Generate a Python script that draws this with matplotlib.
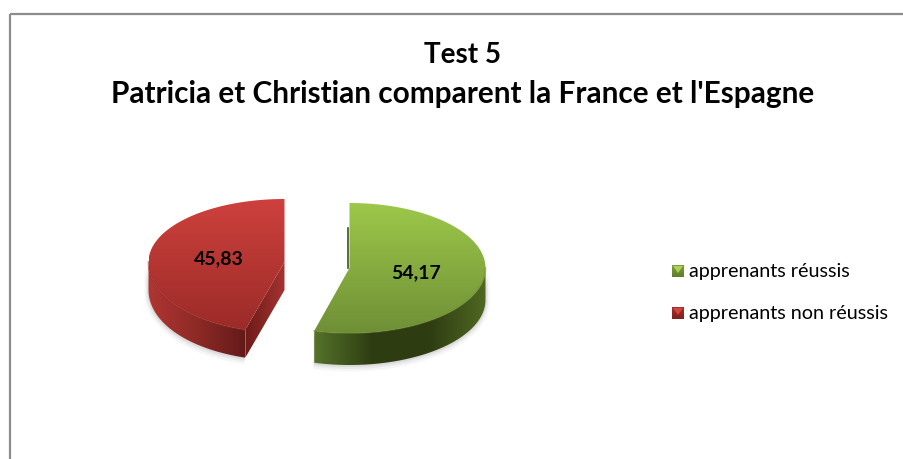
import numpy as np
import matplotlib
matplotlib.use('Agg')
import matplotlib.pyplot as plt
from matplotlib.colors import LinearSegmentedColormap
from matplotlib.patches import Polygon, Rectangle

plt.rcParams['font.family'] = ['Lato', 'DejaVu Sans']

# donnees
labels = ['apprenants réussis', 'apprenants non réussis']
values = [54.17, 45.83]
value_texts = ['54,17', '45,83']
title_lines = ['Test 5', "Patricia et Christian comparent la France et l'Espagne"]

fig = plt.figure(figsize=(9.04, 4.59), dpi=100, facecolor='white')
ax = fig.add_axes([0, 0, 1, 1])
ax.set_xlim(0, 904)
ax.set_ylim(459, 0)
ax.axis('off')

# cadre du graphique
ax.add_patch(Rectangle((10, 14), 1000, 1000, fc='none', ec='#8c8c8c', lw=1.6))


def grad_fill(points, stops, horizontal, zorder):
    # remplit un polygone avec un degrade
    poly = Polygon(points, closed=True, fc='none', ec='none', zorder=zorder)
    ax.add_patch(poly)
    cmap = LinearSegmentedColormap.from_list('g', stops)
    x0, y0 = points.min(axis=0)
    x1, y1 = points.max(axis=0)
    ramp = np.linspace(0, 1, 256)
    ramp = ramp[None, :] if horizontal else ramp[:, None]
    im = ax.imshow(ramp, cmap=cmap, extent=(x0, x1, y1, y0), aspect='auto',
                   zorder=zorder, interpolation='bilinear')
    im.set_clip_path(poly)
    return poly


def arc(cx, cy, rx, ry, a0, a1, k=0.0, dy=0):
    # angles en degres, sens horaire depuis midi; k = perspective sur l'avant
    t = np.radians(np.linspace(a0, a1, 200))
    f = 1 + k * np.maximum(0, -np.cos(t)) ** 2
    return np.column_stack([cx + f * rx * np.sin(t), cy - f * ry * np.cos(t) + dy])


def draw_slice(cx, cy, rx, ry, depth, k, a0, a1, top, side, face):
    lo, hi = max(a0, 90), min(a1, 270)
    # ombre legere sous la part
    for grow, alpha in ((4, 0.05), (2.5, 0.07), (1.2, 0.10)):
        low = arc(cx, cy, rx + grow, ry + grow, lo, hi, k, depth + grow * 0.6)
        ax.add_patch(Polygon(np.vstack([low, low[::-1] + [0, -depth]]), fc='#555555',
                             ec='none', alpha=alpha, zorder=2))
    # cote courbe visible (moitie basse)
    edge = arc(cx, cy, rx, ry, lo, hi, k)
    wall = np.vstack([edge, edge[::-1] + [0, depth]])
    grad_fill(wall, side, True, 3)
    # face de coupe
    if face is not None:
        end = edge[0]
        pts = np.array([[cx, cy], [cx, cy + depth], end + [0, depth], end])
        grad_fill(pts, face, True, 3)
    # dessus
    pts = np.vstack([[cx, cy], arc(cx, cy, rx, ry, a0, a1, k)])
    grad_fill(pts, top, False, 4)
    # lisere clair sur le bord avant
    ax.plot(edge[:, 0], edge[:, 1], color=top[-1], lw=1.2, alpha=0.55, zorder=5)


angles = np.cumsum([0] + [v / sum(values) * 360 for v in values])
centers = [(349.5, 268, 136, 65, 32, 0.0), (284.5, 262, 136, 63, 28, 0.12)]
top_colors = [['#9DC84A', '#6F8F36'], ['#CE413D', '#9B2B28']]
side_colors = [['#55732A', '#2F3D13', '#2E3C12', '#4F6822'],
               ['#B03532', '#8E2A27', '#641A18']]
face_colors = [None, ['#6C1B19', '#A63331']]
label_dx = [-1, 2]

for i in range(2):
    cx, cy, rx, ry, depth, k = centers[i]
    draw_slice(cx, cy, rx, ry, depth, k, angles[i], angles[i + 1],
               top_colors[i], side_colors[i], face_colors[i])
    # etiquette au milieu de la part
    mid = np.radians((angles[i] + angles[i + 1]) / 2)
    ax.text(cx + 0.5 * rx * np.sin(mid) + label_dx[i], cy - 0.5 * ry * np.cos(mid) + 0.5,
            value_texts[i], ha='center', va='center', fontsize=14, fontweight='bold',
            color='black', zorder=6)

# petite tranche sombre derriere le centre de la part verte
ax.plot([348.5, 348.5], [228, 268], color='#3E5219', lw=1.2, zorder=3)

# titre
ax.text(463, 55, title_lines[0], ha='center', va='center', fontsize=20, fontweight='bold',
        color='black')
ax.text(463, 94, title_lines[1], ha='center', va='center', fontsize=21.4, fontweight='bold',
        color='black')

# legende
legend_y = [271, 313]
legend_base = [['#7F9F3C', '#5F7C2C'], ['#A5302D', '#7E2220']]
legend_light = ['#A9D15A', '#D2443F']
for i, lab in enumerate(labels):
    y = legend_y[i]
    pts = np.array([[672, y - 6], [684, y - 6], [684, y + 6], [672, y + 6]])
    grad_fill(pts, legend_base[i], False, 4)
    ax.add_patch(Polygon([[673, y - 5], [683, y - 5], [678, y + 2]], fc=legend_light[i],
                         ec='none', zorder=5))
    ax.text(689, y, lab, ha='left', va='center', fontsize=14.2, color='black')

ax.set_xlim(0, 904)
ax.set_ylim(459, 0)
fig.savefig('out.png', dpi=100)
